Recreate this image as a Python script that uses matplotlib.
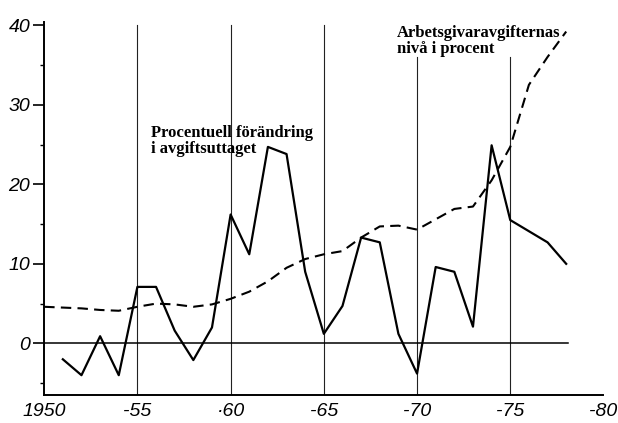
import matplotlib
matplotlib.use('Agg')
import matplotlib.pyplot as plt
import numpy as np

# Procentuell förändring i avgiftsuttaget (solid line)
years_change = list(range(1951, 1979))
change = [-2.0, -4.0, 0.9, -4.0, 7.1, 7.1, 1.6, -2.1, 2.0, 16.2,
          11.2, 24.7, 23.8, 9.0, 1.2, 4.7, 13.3, 12.7, 1.2, -3.8,
          9.6, 9.0, 2.1, 24.9, 15.5, 14.1, 12.7, 10.0]

# Arbetsgivaravgifternas nivå i procent (dashed line)
years_level = list(range(1950, 1979))
level = [4.6, 4.5, 4.4, 4.2, 4.1, 4.6, 5.0, 4.9, 4.6, 4.9,
         5.6, 6.5, 7.8, 9.5, 10.6, 11.2, 11.6, 13.3, 14.7, 14.8,
         14.3, 15.6, 16.9, 17.2, 20.5, 24.7, 32.5, 36.0, 39.2]

xticks = [1950, 1955, 1960, 1965, 1970, 1975, 1980]
xlabels = ['1950', '-55', '·60', '-65', '-70', '-75', '-80']
yticks = [0, 10, 20, 30, 40]
ylabels = ['0', '10', '20', '30', '40']
grid_years = [1955, 1960, 1965, 1970, 1975]
grid_tops = [40, 40, 40, 36, 36]

fig = plt.figure(figsize=(6.18, 4.23), dpi=100)
ax = fig.add_axes([0.0715, 0.066, 0.905, 0.882])

ax.set_xlim(1950, 1980)
ax.set_ylim(-6.5, 40.4)

# thin vertical guide lines
for yr, top in zip(grid_years, grid_tops):
    ax.plot([yr, yr], [-6.5, top], color='#222222', lw=0.8, zorder=1)

# zero line
ax.plot([1950, 1978.1], [0, 0], color='black', lw=1.1, zorder=2)

ax.plot(years_change, change, color='black', lw=1.6, zorder=3)
ax.plot(years_level, level, color='black', lw=1.5, dashes=(5, 3), zorder=3)

ax.spines['top'].set_visible(False)
ax.spines['right'].set_visible(False)
ax.spines['left'].set_linewidth(1.4)
ax.spines['bottom'].set_linewidth(1.4)

ax.set_yticks(yticks)
ax.set_yticklabels(ylabels)
ax.set_yticks([-5, 5, 15, 25, 35], minor=True)
ax.tick_params(axis='y', which='major', length=8, width=1.2, pad=2,
               labelsize=14)
ax.tick_params(axis='y', which='minor', length=3, width=1.0)
ax.set_xticks(xticks)
ax.set_xticklabels(xlabels)
ax.tick_params(axis='x', length=0, pad=6, labelsize=14)
for lab in ax.get_xticklabels() + ax.get_yticklabels():
    lab.set_fontstyle('italic')
    lab.set_family('Liberation Sans')

ax.text(1955.75, 27.4, 'Procentuell förändring\ni avgiftsuttaget',
        family='Liberation Serif', fontweight='bold', fontsize=12,
        linespacing=1.0, va='top', ha='left')
ax.text(1968.9, 40.0, 'Arbetsgivaravgifternas\nnivå i procent',
        family='Liberation Serif', fontweight='bold', fontsize=12,
        linespacing=1.0, va='top', ha='left')

fig.savefig('out.png', dpi=100)
